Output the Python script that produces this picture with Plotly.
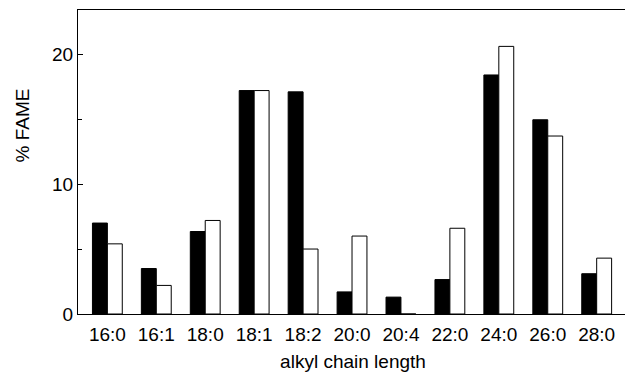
import plotly.graph_objects as go

categories = ["16:0", "16:1", "18:0", "18:1", "18:2", "20:0", "20:4", "22:0", "24:0", "26:0", "28:0"]
black_values = [7.0, 3.5, 6.35, 17.2, 17.1, 1.7, 1.3, 2.65, 18.4, 14.95, 3.1]
white_values = [5.4, 2.2, 7.2, 17.2, 5.0, 6.0, 0.0, 6.6, 20.6, 13.7, 4.3]
y_tick_vals = [0, 10, 20]
y_tick_text = ["0", "10", "20"]

font_family = "Liberation Sans, Arial, sans-serif"

fig = go.Figure()
fig.add_trace(go.Bar(x=categories, y=black_values, marker=dict(color="black", line=dict(color="black", width=1)), showlegend=False))
fig.add_trace(go.Bar(x=categories, y=white_values, marker=dict(color="white", line=dict(color="black", width=1)), showlegend=False))

fig.update_layout(
    width=625, height=372,
    margin=dict(l=70, r=5, t=2, b=66),
    paper_bgcolor="white", plot_bgcolor="white",
    barmode="group", bargap=0.39, bargroupgap=0,
    font=dict(family=font_family, size=19, color="black"),
)
fig.update_xaxes(
    range=[-0.6, 10.64], showline=True, linecolor="black", linewidth=1, mirror=True,
    ticks="", showgrid=False, tickfont=dict(size=19), ticklen=0, ticklabelstandoff=3,
    title=dict(text="alkyl chain length", font=dict(size=19), standoff=10),
)
fig.update_yaxes(
    range=[0, 23.4], showline=True, linecolor="black", linewidth=1, mirror=True,
    tickvals=y_tick_vals, ticktext=y_tick_text, ticks="inside", ticklen=5, tickcolor="black",
    minor=dict(tickvals=[5, 15], ticks="inside", ticklen=4, tickcolor="black"),
    showgrid=False, zeroline=False, tickfont=dict(size=19),
)
fig.add_annotation(text="% FAME", xref="paper", yref="paper", x=-0.1, y=0.62, textangle=-90,
                   showarrow=False, font=dict(size=19), xanchor="center", yanchor="middle")

fig.write_html("out.html")
